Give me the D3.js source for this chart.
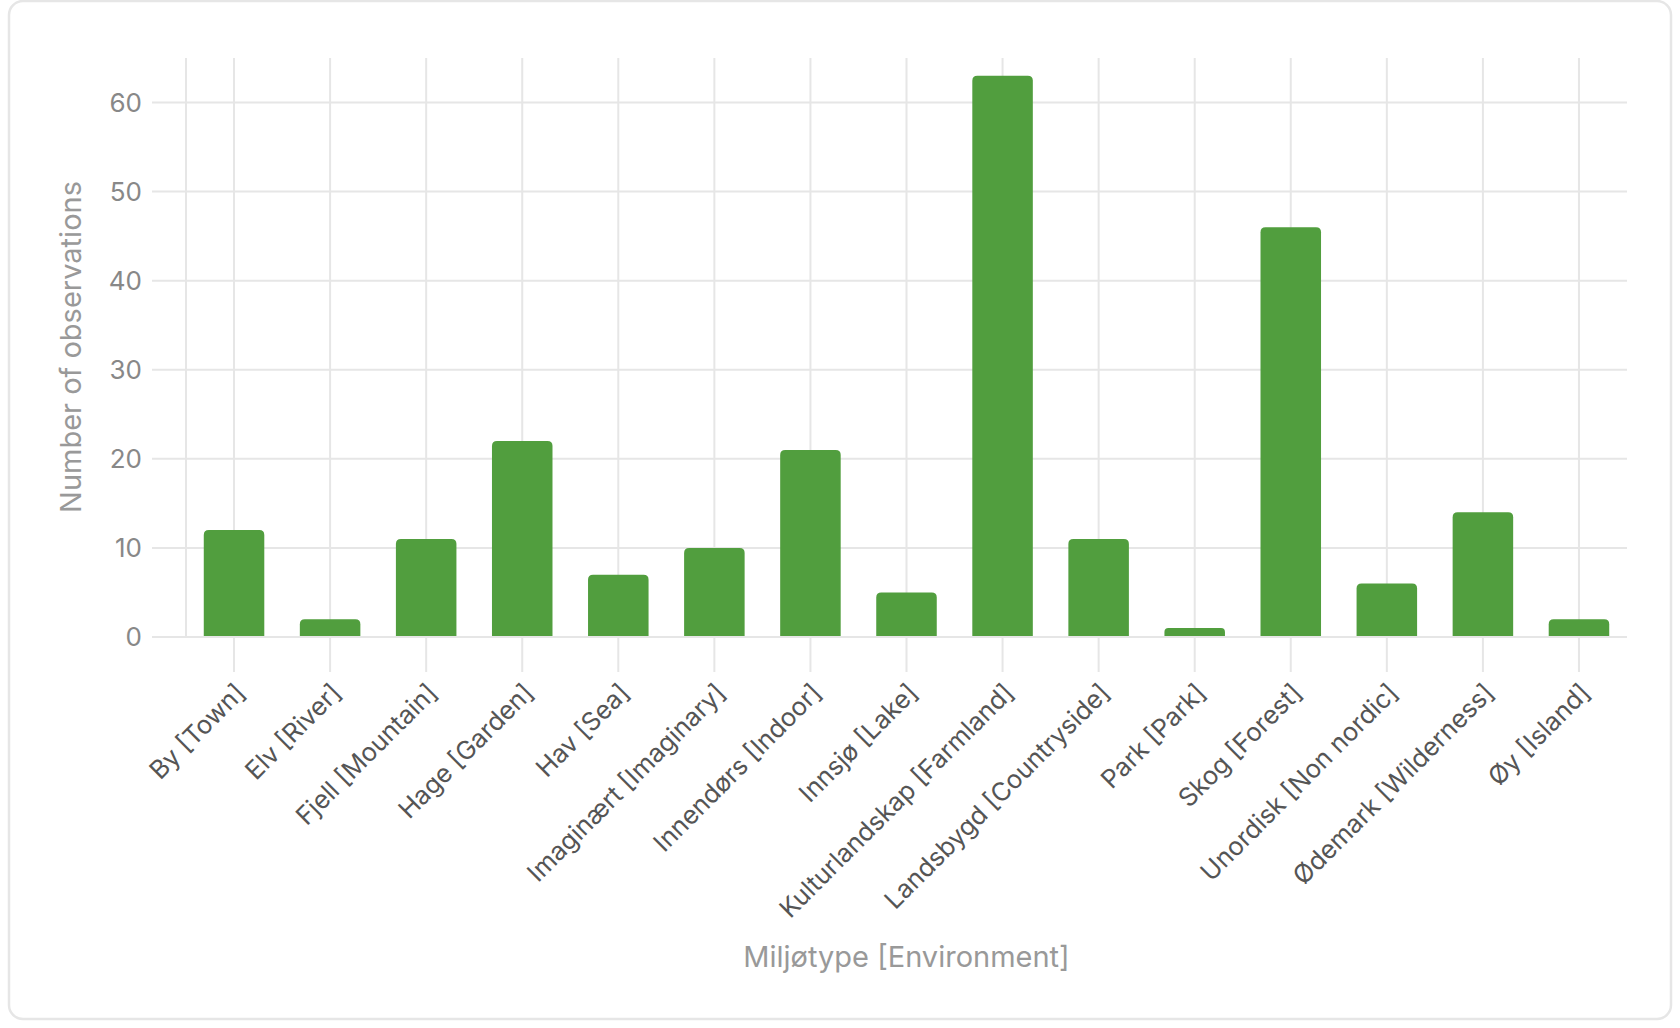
<!DOCTYPE html>
<html>
<head>
<meta charset="utf-8">
<script src="https://cdn.jsdelivr.net/npm/d3@7"></script>
<style>
  html, body { margin: 0; padding: 0; background: #fff; }
  svg { display: block; }
</style>
</head>
<body>
<svg></svg>
<script>
// categories and counts
const categories = [
    'By [Town]', 'Elv [River]', 'Fjell [Mountain]', 'Hage [Garden]', 'Hav [Sea]',
    'Imaginært [Imaginary]', 'Innendørs [Indoor]', 'Innsjø [Lake]', 'Kulturlandskap [Farmland]',
    'Landsbygd [Countryside]', 'Park [Park]', 'Skog [Forest]', 'Unordisk [Non nordic]',
    'Ødemark [Wilderness]', 'Øy [Island]'
];
const counts = [12, 2, 11, 22, 7, 10, 21, 5, 63, 11, 1, 46, 6, 14, 2];
const yTicks = [0, 10, 20, 30, 40, 50, 60];

const size = {w: 1680, h: 1028};
const plot = {l: 186, r: 1627, t: 58, b: 637};
const font = 'Inter, "Liberation Sans", sans-serif';
const gridColor = '#e6e6e6';

const svg = d3.select('svg')
    .attr('width', size.w)
    .attr('height', size.h);

// card
svg.append('rect')
    .attr('x', 9).attr('y', 1)
    .attr('width', 1662).attr('height', 1018)
    .attr('rx', 14)
    .attr('fill', '#fff')
    .attr('stroke', '#e6e6e6')
    .attr('stroke-width', 2.5);

const x = d3.scaleBand()
    .domain(categories)
    .range([plot.l, plot.r])
    .paddingInner(0.37)
    .paddingOuter(0.185);

const y = d3.scaleLinear()
    .domain([0, 65])
    .range([plot.b, plot.t]);

// horizontal grid + y tick marks
svg.append('g')
    .selectAll('line')
    .data(yTicks)
    .join('line')
    .attr('x1', plot.l - 34)
    .attr('x2', plot.r)
    .attr('y1', d => y(d))
    .attr('y2', d => y(d))
    .attr('stroke', gridColor)
    .attr('stroke-width', 2);

// left border line
svg.append('line')
    .attr('x1', plot.l).attr('x2', plot.l)
    .attr('y1', plot.t).attr('y2', plot.b)
    .attr('stroke', gridColor)
    .attr('stroke-width', 2);

// vertical grid at category centres, extending down as tick marks
svg.append('g')
    .selectAll('line')
    .data(categories)
    .join('line')
    .attr('x1', d => x(d) + x.bandwidth() / 2)
    .attr('x2', d => x(d) + x.bandwidth() / 2)
    .attr('y1', plot.t)
    .attr('y2', plot.b + 35)
    .attr('stroke', gridColor)
    .attr('stroke-width', 2);

// bars with rounded tops
const r = 5;
svg.append('g')
    .attr('fill', '#519e3e')
    .selectAll('path')
    .data(categories.map((c, i) => ({c, v: counts[i]})))
    .join('path')
    .attr('d', d => {
        const x0 = x(d.c), x1 = x0 + x.bandwidth();
        const y0 = y(0) - 1, y1 = y(d.v);
        const rr = Math.min(r, (y0 - y1) / 2);
        return `M${x0},${y0} V${y1 + rr} Q${x0},${y1} ${x0 + rr},${y1} H${x1 - rr} Q${x1},${y1} ${x1},${y1 + rr} V${y0} Z`;
    });

// y tick labels
svg.append('g')
    .attr('font-family', font)
    .attr('font-size', 26)
    .attr('fill', '#888')
    .attr('text-anchor', 'end')
    .selectAll('text')
    .data(yTicks)
    .join('text')
    .attr('x', plot.l - 44)
    .attr('y', d => y(d))
    .attr('dy', '0.36em')
    .text(d => d);

// x tick labels, rotated
svg.append('g')
    .attr('font-family', font)
    .attr('font-size', 25.5)
    .attr('fill', '#555')
    .attr('text-anchor', 'end')
    .selectAll('text')
    .data(categories)
    .join('text')
    .attr('transform', d => `translate(${x(d) + x.bandwidth() / 2 + 6},${plot.b + 51}) rotate(-45)`)
    .attr('dy', '0.36em')
    .text(d => d);

// axis titles
svg.append('text')
    .attr('font-family', font)
    .attr('font-size', 29)
    .attr('fill', '#999')
    .attr('text-anchor', 'middle')
    .attr('x', (plot.l + plot.r) / 2)
    .attr('y', 967)
    .text('Miljøtype [Environment]');

svg.append('text')
    .attr('font-family', font)
    .attr('font-size', 29)
    .attr('fill', '#999')
    .attr('text-anchor', 'middle')
    .attr('transform', `translate(81,347) rotate(-90)`)
    .text('Number of observations');
</script>
</body>
</html>
